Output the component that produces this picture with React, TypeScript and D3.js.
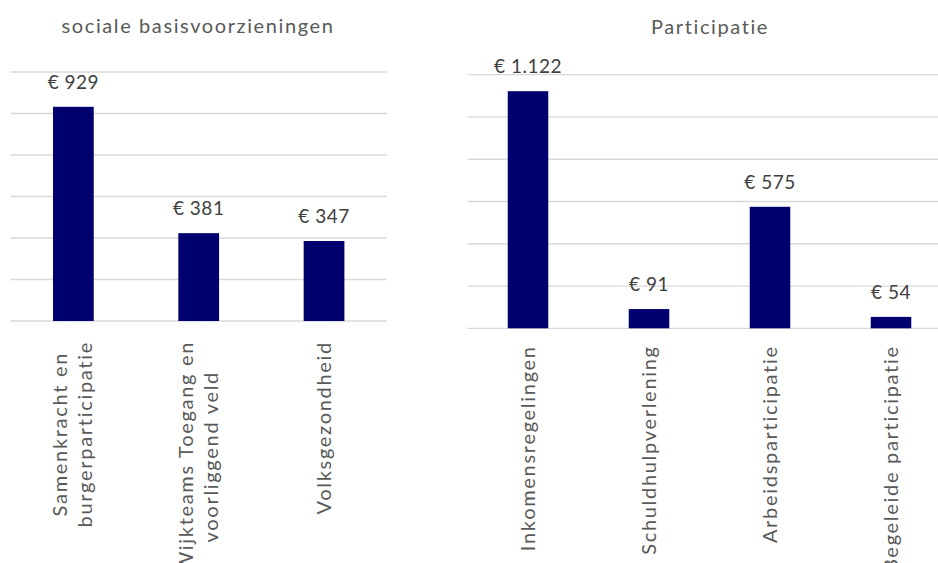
import React, { useEffect, useRef } from "react";
import * as d3 from "d3";

const leftTitle = "sociale basisvoorzieningen";
const leftCategories = [["Samenkracht en", "burgerparticipatie"], ["Wijkteams Toegang en", "voorliggend veld"], ["Volksgezondheid"]];
const leftValues = [929, 381, 347];
const leftTicks = [0, 180, 360, 540, 720, 900, 1080];

const rightTitle = "Participatie";
const rightCategories = [["Inkomensregelingen"], ["Schuldhulpverlening"], ["Arbeidsparticipatie"], ["Begeleide participatie"]];
const rightValues = [1122, 91, 575, 54];
const rightTicks = [0, 200, 400, 600, 800, 1000, 1200];

const FONT = "Lato, 'Open Sans', sans-serif";
const BAR = "#00006e";
const GRID = "#d9d9d9";

const nl = d3.formatLocale({ decimal: ",", thousands: ".", grouping: [3], currency: ["€ ", ""] });
const fmt = nl.format("$,.0f");

type Panel = {
  title: string;
  titleX: number;
  titleY: number;
  cats: string[][];
  vals: number[];
  ticks: number[];
  x0: number;
  x1: number;
  yTop: number;
  yBase: number;
  barFrac: number;
  labelGap: number;
};

const panels: Panel[] = [
  { title: leftTitle, titleX: 198, titleY: 33, cats: leftCategories, vals: leftValues, ticks: leftTicks, x0: 10.7, x1: 386.7, yTop: 72, yBase: 321, barFrac: 0.325, labelGap: 20 },
  { title: rightTitle, titleX: 710, titleY: 34, cats: rightCategories, vals: rightValues, ticks: rightTicks, x0: 467.5, x1: 951.5, yTop: 74.7, yBase: 328.3, barFrac: 0.335, labelGap: 17 },
];

export default function App() {
  const ref = useRef<SVGSVGElement>(null);
  useEffect(() => {
    const svg = d3.select(ref.current);
    svg.selectAll("*").remove();
    panels.forEach((p) => {
      const g = svg.append("g");
      const keys = p.cats.map((c) => c.join(" "));
      const x = d3.scaleBand<string>().domain(keys).range([p.x0, p.x1]).padding(0);
      const y = d3.scaleLinear().domain([p.ticks[0], p.ticks[p.ticks.length - 1]]).range([p.yBase, p.yTop]);
      g.selectAll("line.grid").data(p.ticks).enter().append("line")
        .attr("x1", p.x0).attr("x2", p.x1)
        .attr("y1", (d) => y(d)).attr("y2", (d) => y(d))
        .attr("stroke", GRID).attr("stroke-width", 1.3);
      const bw = x.bandwidth() * p.barFrac;
      g.selectAll("rect").data(p.vals).enter().append("rect")
        .attr("x", (_, i) => x(keys[i])! + x.bandwidth() / 2 - bw / 2)
        .attr("width", bw)
        .attr("y", (d) => y(d))
        .attr("height", (d) => y(0) - y(d))
        .attr("fill", BAR);
      g.selectAll("text.val").data(p.vals).enter().append("text")
        .attr("x", (_, i) => x(keys[i])! + x.bandwidth() / 2)
        .attr("y", (d) => y(d) - 18)
        .attr("text-anchor", "middle")
        .attr("font-family", FONT).attr("font-size", 19).attr("letter-spacing", 0.5).attr("fill", "#404040")
        .text((d) => fmt(d));
      g.append("text").attr("x", p.titleX).attr("y", p.titleY)
        .attr("text-anchor", "middle").attr("font-family", FONT).attr("font-size", 20)
        .attr("letter-spacing", 1.6)
        .attr("fill", "#595959").text(p.title);
      p.cats.forEach((lines, i) => {
        const cx = x(keys[i])! + x.bandwidth() / 2;
        const t = g.append("text")
          .attr("font-family", FONT).attr("font-size", 20).attr("fill", "#595959")
          .attr("letter-spacing", 1.7)
          .attr("text-anchor", "middle");
        const spans = lines.map((ln) => t.append("tspan").text(ln));
        const maxLen = d3.max(spans, (s) => (s.node() as SVGTSpanElement).getComputedTextLength()) || 0;
        const top = p.yBase + p.labelGap;
        const lh = 25;
        spans.forEach((s, j) => {
          s.attr("x", -(maxLen / 2)).attr("y", (j - (lines.length - 1) / 2) * lh + 6.5);
        });
        t.attr("transform", `translate(${cx},${top}) rotate(-90)`);
      });
    });
  }, []);
  return (
    <div style={{ position: "fixed", left: 0, top: 0, background: "#fff" }}>
      <svg ref={ref} width={938} height={563} style={{ display: "block" }} />
    </div>
  );
}
